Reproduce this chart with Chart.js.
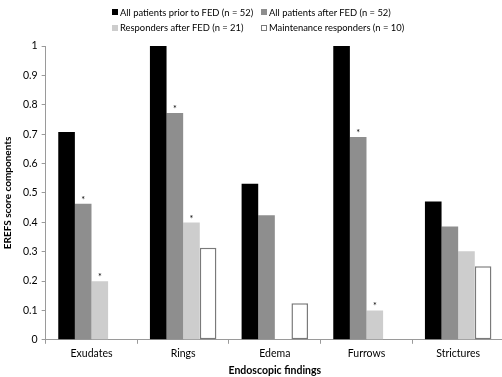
<!DOCTYPE html>
<html>
<head>
<meta charset="utf-8">
<script src="https://cdn.jsdelivr.net/npm/chart.js@4"></script>
<style>
  html, body { margin: 0; padding: 0; background: #fff; overflow: hidden; }
  #wrap { position: relative; width: 506px; height: 377px; }
  #legend { position: absolute; left: 0; top: 0; font-family: Lato, "Liberation Sans", sans-serif; font-size: 9.4px; color: #000; white-space: nowrap; }
  .item { position: absolute; display: flex; align-items: center; height: 12px; }
  .sw { width: 6px; height: 6px; margin-right: 2px; box-sizing: border-box; flex-shrink: 0; }
</style>
</head>
<body>
<div id="wrap">
  <canvas id="c" width="506" height="377"></canvas>
  <div id="legend"></div>
</div>
<script>
// Endoscopic findings and mean EREFS component scores per patient group
const categories = ["Exudates", "Rings", "Edema", "Furrows", "Strictures"];
const seriesNames = [
  "All patients prior to FED (n = 52)",
  "All patients after FED (n = 52)",
  "Responders after FED (n = 21)",
  "Maintenance responders (n = 10)"
];
const priorFED = [0.707, 1.0, 0.531, 1.0, 0.471];
const afterFED = [0.463, 0.772, 0.424, 0.690, 0.386];
const respondersAfter = [0.199, 0.399, null, 0.10, 0.301];
const maintenance = [null, 0.313, 0.124, null, 0.25];
// significance markers (*) per series
const sigPrior = [0, 0, 0, 0, 0];
const sigAfter = [1, 1, 0, 1, 0];
const sigResponders = [1, 1, 0, 1, 0];
const sigMaintenance = [0, 0, 0, 0, 0];
const yTicks = [0, 0.1, 0.2, 0.3, 0.4, 0.5, 0.6, 0.7, 0.8, 0.9, 1];

const fills = ["#000000", "#8e8e8e", "#cdcdcd", "#ffffff"];
const borders = ["#000000", "#8e8e8e", "#cdcdcd", "#7a7a7a"];
const values = [priorFED, afterFED, respondersAfter, maintenance];
const sigs = [sigPrior, sigAfter, sigResponders, sigMaintenance];

const FONT = 'Lato, "Liberation Sans", sans-serif';

// HTML legend laid out as a 2x2 grid
const legend = document.getElementById("legend");
const legendCols = [112, 261];
const legendRows = [6, 21.5];
seriesNames.forEach((name, i) => {
  const item = document.createElement("div");
  item.className = "item";
  item.style.left = legendCols[i % 2] + "px";
  item.style.top = legendRows[Math.floor(i / 2)] + "px";
  const sw = document.createElement("span");
  sw.className = "sw";
  sw.style.background = fills[i];
  sw.style.border = "1px solid " + borders[i];
  item.appendChild(sw);
  item.appendChild(document.createTextNode(name));
  legend.appendChild(item);
});

// draws "*" above flagged bars
const starPlugin = {
  id: "stars",
  afterDatasetsDraw(chart) {
    const ctx = chart.ctx;
    ctx.save();
    ctx.fillStyle = "#000";
    ctx.font = "9px " + FONT;
    ctx.textAlign = "center";
    ctx.textBaseline = "alphabetic";
    chart.data.datasets.forEach((ds, di) => {
      const meta = chart.getDatasetMeta(di);
      meta.data.forEach((bar, i) => {
        if (sigs[di][i] && ds.data[i] != null) {
          ctx.fillText("*", bar.x, bar.y - 1);
        }
      });
    });
    ctx.restore();
  }
};

new Chart(document.getElementById("c"), {
  type: "bar",
  data: {
    labels: categories,
    datasets: values.map((v, i) => ({
      label: seriesNames[i],
      data: v,
      backgroundColor: fills[i],
      borderColor: borders[i],
      borderWidth: i === 3 ? 1.5 : 0,
      borderSkipped: false,
      barPercentage: 1,
      categoryPercentage: 0.725
    }))
  },
  options: {
    responsive: false,
    animation: false,
    layout: { padding: { top: 46, right: 2, left: 2, bottom: 0 } },
    plugins: { legend: { display: false }, tooltip: { enabled: false } },
    scales: {
      x: {
        grid: { drawOnChartArea: false, drawTicks: true, tickLength: 4, color: "#9a9a9a", offset: true },
        border: { color: "#9a9a9a", width: 1 },
        ticks: { color: "#000", font: { family: FONT, size: 10.5 }, padding: 4 },
        title: { display: true, text: "Endoscopic findings", color: "#000", font: { family: FONT, size: 10.5, weight: "bold" }, padding: { top: 0, bottom: 0 } }
      },
      y: {
        min: 0, max: 1,
        afterBuildTicks(axis) { axis.ticks = yTicks.map(v => ({ value: v })); },
        grid: { drawOnChartArea: false, drawTicks: true, tickLength: 4, color: "#9a9a9a" },
        border: { color: "#9a9a9a", width: 1 },
        ticks: { color: "#000", font: { family: FONT, size: 10.5 }, padding: 4, callback: v => String(v) },
        title: { display: true, text: "EREFS score components", color: "#000", font: { family: FONT, size: 10, weight: "bold" }, padding: { top: 0, bottom: 5 } }
      }
    }
  },
  plugins: [starPlugin]
});
</script>
</body>
</html>
